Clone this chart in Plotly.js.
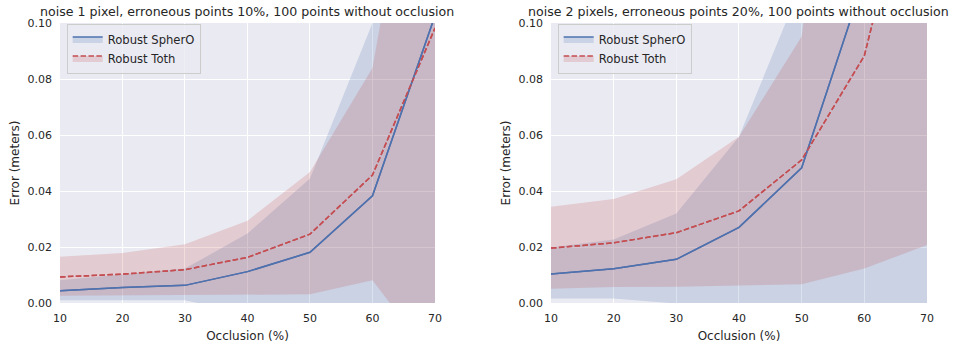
<!DOCTYPE html>
<html>
<head>
<meta charset="utf-8">
<script src="https://cdn.plot.ly/plotly-3.0.1.min.js"></script>
<style>html,body{margin:0;padding:0;background:#fff;}#chart{width:959px;height:344px;}</style>
</head>
<body>
<div id="chart"></div>
<script>
// ---- data ----
const occlusion = [10, 20, 30, 40, 50, 60, 70];
const xTicks = [10, 20, 30, 40, 50, 60, 70];
const yTicks = [0, 0.02, 0.04, 0.06, 0.08, 0.10];
const yTickLabels = ['0.00', '0.02', '0.04', '0.06', '0.08', '0.10'];
const seriesNames = ['Robust SpherO', 'Robust Toth'];
const panelTitles = [
  'noise 1 pixel, erroneous points 10%, 100 points without occlusion',
  'noise 2 pixels, erroneous points 20%, 100 points without occlusion'
];
const xLabel = 'Occlusion (%)';
const yLabel = 'Error (meters)';

// panel 1: noise 1 pixel
const spheroMeanA = [0.0044, 0.0055, 0.0063, 0.0112, 0.0181, 0.0383, 0.1026];
const spheroLowA  = [0.0010, 0.0010, 0.0010, -0.0040, -0.0090, -0.0150, -0.0500];
const spheroHighA = [0.0081, 0.0101, 0.0123, 0.0248, 0.0445, 0.1000, 0.3000];
const tothMeanA   = [0.0093, 0.0103, 0.0119, 0.0163, 0.0246, 0.0457, 0.0982];
const tothLowA    = [0.0026, 0.0027, 0.0030, 0.0031, 0.0031, 0.0081, -0.0210];
const tothHighA   = [0.0165, 0.0179, 0.0210, 0.0294, 0.0468, 0.0839, 0.2100];

// panel 2: noise 2 pixels
const spheroMeanB = [0.0104, 0.0122, 0.0156, 0.0270, 0.0483, 0.1160, 0.2000];
const spheroLowB  = [0.0016, 0.0016, -0.0002, -0.0030, -0.0060, -0.0100, -0.0200];
const spheroHighB = [0.0198, 0.0227, 0.0320, 0.0594, 0.1140, 0.2500, 0.3500];
const tothMeanB   = [0.0196, 0.0215, 0.0251, 0.0329, 0.0511, 0.0883, 0.1780];
const tothLowB    = [0.0051, 0.0057, 0.0058, 0.0062, 0.0067, 0.0123, 0.0207];
const tothHighB   = [0.0344, 0.0371, 0.0442, 0.0594, 0.0952, 0.2550, 0.3500];

// ---- styles ----
const FONT = 'DejaVu Sans, Verdana, sans-serif';
const TXT = '#262626';
const BLUE = '#4c72b0', RED = '#c44e52';
const BLUE_F = 'rgba(76,114,176,0.2)', RED_F = 'rgba(196,78,82,0.2)';
const RED_DASH = '5.5px,2.4px';

function panel(xa, ya, leg, sMean, sLow, sHigh, tMean, tLow, tHigh) {
  const base = {x: occlusion, xaxis: xa, yaxis: ya, hoverinfo: 'skip', type: 'scatter', mode: 'lines'};
  return [
    Object.assign({}, base, {y: sLow, line: {width: 0, color: BLUE}, showlegend: false}),
    Object.assign({}, base, {y: sMean, fill: 'tonexty', fillcolor: BLUE_F, line: {width: 1.5, color: BLUE},
      name: seriesNames[0], legend: leg, legendgroup: 's' + leg}),
    Object.assign({}, base, {y: sHigh, fill: 'tonexty', fillcolor: BLUE_F, line: {width: 0, color: BLUE}, showlegend: false}),
    Object.assign({}, base, {y: tLow, line: {width: 0, color: RED}, showlegend: false}),
    Object.assign({}, base, {y: tMean, fill: 'tonexty', fillcolor: RED_F, line: {width: 1.5, color: RED, dash: RED_DASH},
      name: seriesNames[1], legend: leg, legendgroup: 't' + leg}),
    Object.assign({}, base, {y: tHigh, fill: 'tonexty', fillcolor: RED_F, line: {width: 0, color: RED}, showlegend: false}),
    Object.assign({}, base, {y: sMean, line: {width: 1.5, color: BLUE}, showlegend: false}),
    Object.assign({}, base, {y: tMean, line: {width: 1.5, color: RED, dash: RED_DASH}, showlegend: false})
  ];
}

const data = [].concat(
  panel('x', 'y', 'legend', spheroMeanA, spheroLowA, spheroHighA, tothMeanA, tothLowA, tothHighA),
  panel('x2', 'y2', 'legend2', spheroMeanB, spheroLowB, spheroHighB, tothMeanB, tothLowB, tothHighB)
);

function xAxis(domain, anchor) {
  return {
    domain: domain, anchor: anchor, range: [10, 70], tickvals: xTicks, ticktext: xTicks.map(String),
    showgrid: true, gridcolor: '#ffffff', gridwidth: 1, zeroline: false, showline: false, ticks: '',
    ticklabelstandoff: 7, tickfont: {family: FONT, size: 11, color: TXT},
    title: {text: xLabel, font: {family: FONT, size: 12, color: TXT}, standoff: 7}, automargin: false, fixedrange: true
  };
}
function yAxis(anchor) {
  return {
    domain: [0, 1], anchor: anchor, range: [0, 0.1], tickvals: yTicks, ticktext: yTickLabels,
    showgrid: true, gridcolor: '#ffffff', gridwidth: 1, zeroline: false, showline: false, ticks: '',
    ticklabelstandoff: 7, tickfont: {family: FONT, size: 11, color: TXT},
    title: {text: yLabel, font: {family: FONT, size: 12, color: TXT}, standoff: 5}, automargin: false, fixedrange: true
  };
}
function legend(x) {
  return {
    x: x, y: 0.998, xanchor: 'left', yanchor: 'top', xref: 'paper', yref: 'paper',
    bgcolor: 'rgba(234,234,242,0.8)', bordercolor: '#cccccc', borderwidth: 1,
    font: {family: FONT, size: 11.6, color: TXT}, itemwidth: 30, tracegroupgap: 0, traceorder: 'normal'
  };
}

const layout = {
  width: 959, height: 344,
  margin: {l: 60, r: 32, t: 23, b: 41, pad: 0},
  paper_bgcolor: '#ffffff', plot_bgcolor: '#eaeaf2',
  font: {family: FONT, color: TXT},
  showlegend: true,
  xaxis: xAxis([0, 0.4325], 'y'),
  yaxis: yAxis('x'),
  xaxis2: xAxis([0.5663, 1], 'y2'),
  yaxis2: yAxis('x2'),
  legend: legend(0.0077),
  legend2: legend(0.574),
  annotations: [
    {text: panelTitles[0], xref: 'x domain', yref: 'y domain', x: 0.5, y: 1, xanchor: 'center', yanchor: 'bottom',
     yshift: 2, showarrow: false, font: {family: FONT, size: 12.6, color: TXT}},
    {text: panelTitles[1], xref: 'x2 domain', yref: 'y2 domain', x: 0.5, y: 1, xanchor: 'center', yanchor: 'bottom',
     yshift: 2, showarrow: false, font: {family: FONT, size: 12.6, color: TXT}}
  ]
};

Plotly.newPlot('chart', data, layout, {staticPlot: true, displayModeBar: false});
</script>
</body>
</html>
